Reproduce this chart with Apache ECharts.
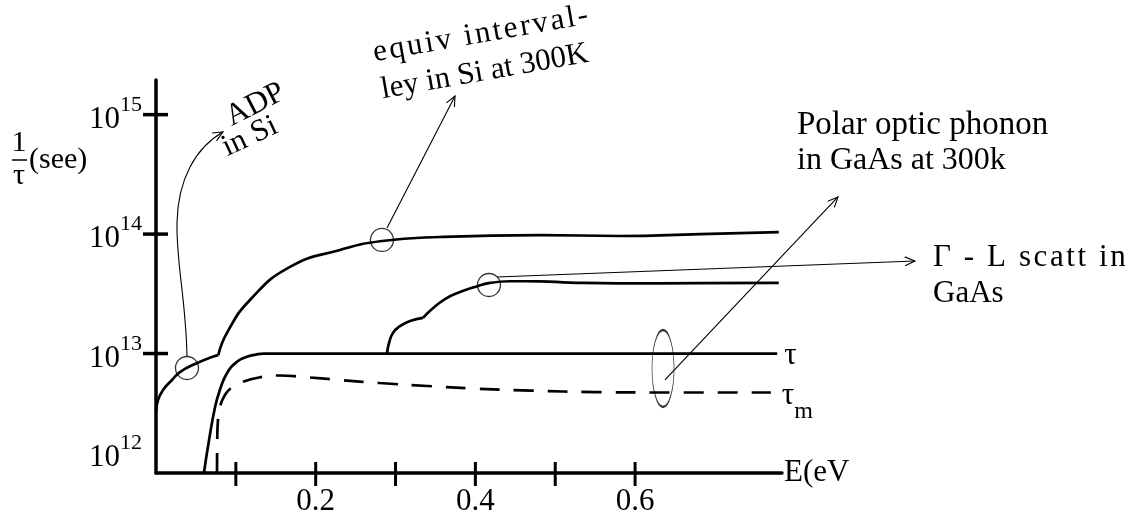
<!DOCTYPE html>
<html>
<head>
<meta charset="utf-8">
<script src="https://cdn.jsdelivr.net/npm/echarts@6/dist/echarts.min.js"></script>
<style>
html,body{margin:0;padding:0;background:#fff;}
#c{width:1140px;height:519px;}
</style>
</head>
<body>
<div id="c"></div>
<script>
// ---------- data (energy in eV, scattering rate 1/tau in s^-1) ----------
const siAdpE    = [0, 0.0025, 0.0088, 0.020, 0.030, 0.051, 0.071, 0.078];
const siAdpRate = [3.24e12, 4.08e12, 4.95e12, 6.0e12, 7.0e12, 8.3e12, 9.4e12, 9.7e12];

const siIvE    = [0.078, 0.0889, 0.1177, 0.1678, 0.2304, 0.283, 0.3557, 0.4809, 0.5811, 0.6813, 0.780];
const siIvRate = [9.7e12, 1.49e13, 2.81e13, 5.31e13, 7.37e13, 8.75e13, 9.46e13, 9.82e13, 9.64e13, 1.0e14, 1.04e14];

const glE1    = [0.2893, 0.2918, 0.2968, 0.3056, 0.3181, 0.3344];
const glRate1 = [1.0e13, 1.22e13, 1.49e13, 1.70e13, 1.87e13, 1.99e13];
const glE2    = [0.3344, 0.3457, 0.3619, 0.3807, 0.3995, 0.4183, 0.4433, 0.4809, 0.5185, 0.5811, 0.6812, 0.780];
const glRate2 = [1.99e13, 2.36e13, 2.86e13, 3.28e13, 3.61e13, 3.90e13, 4.03e13, 4.02e13, 3.93e13, 3.87e13, 3.88e13, 3.90e13];

const tauE    = [0.060, 0.0665, 0.074, 0.080, 0.089, 0.101, 0.113, 0.125, 0.135, 0.778];
const tauRate = [1.0e12, 1.9e12, 3.57e12, 4.95e12, 6.88e12, 8.49e12, 9.35e12, 9.8e12, 1.0e13, 1.0e13];

const tauME    = [0.0764, 0.0767, 0.0776, 0.0808, 0.0864, 0.0927, 0.108, 0.133, 0.155, 0.184, 0.23, 0.28, 0.34, 0.40, 0.47, 0.55, 0.65, 0.77];
const tauMRate = [1.0e12, 1.89e12, 2.78e12, 3.71e12, 4.5e12, 5.05e12, 5.78e12, 6.37e12, 6.55e12, 6.37e12, 6.01e12, 5.67e12, 5.35e12, 5.09e12, 4.9e12, 4.76e12, 4.72e12, 4.72e12];

// marked points on the curves (circles) and the ellipse on the tau / tau_m pair
const circleE    = [0.0388, 0.283, 0.417];
const circleRate = [7.57e12, 8.93e13, 3.75e13];
const ellipseE    = [0.635];
const ellipseRate = [7.5e12];

// axis ticks / labels
const xTickValues  = [0.1, 0.2, 0.3, 0.4, 0.5, 0.6];
const xTickLabels  = ['0.2', '0.4', '0.6'];
const yTickValues  = [1e13, 1e14, 1e15];

// ---------- chart ----------
const FONT = '"Liberation Serif", "Times New Roman", serif';
const zip = (a, b) => a.map((v, i) => [v, b[i]]);
const chart = echarts.init(document.getElementById('c'), null, {renderer: 'canvas'});

const lineBase = {
  type: 'line', showSymbol: false, symbol: 'none', smooth: 0.5, silent: true,
  lineStyle: {color: '#000', width: 2.7}, z: 3
};

const option = {
  animation: false,
  backgroundColor: '#fff',
  grid: {left: 156, right: 358, top: 80, bottom: 46, outerBoundsMode: 'none', containLabel: false},
  xAxis: {
    type: 'value', min: 0, max: 0.784, interval: 0.1,
    axisLine: {show: true, onZero: false, lineStyle: {color: '#000', width: 3.5}},
    axisTick: {show: false}, splitLine: {show: false},
    axisLabel: {
      margin: 13, fontSize: 31, fontFamily: FONT, color: '#000',
      showMinLabel: true, showMaxLabel: true,
      formatter: v => {
        const r = v.toFixed(1);
        return (Math.abs(v - parseFloat(r)) < 1e-9 && xTickLabels.includes(r)) ? r : '';
      }
    },
    name: 'E(eV', nameLocation: 'end', nameGap: 2,
    nameTextStyle: {fontSize: 31, fontFamily: FONT, color: '#000', verticalAlign: 'middle', align: 'left'}
  },
  yAxis: {
    type: 'log', logBase: 10, min: 1e12, max: 1.95e15,
    axisLine: {show: true, onZero: false, lineStyle: {color: '#000', width: 3.5}},
    axisTick: {show: false}, splitLine: {show: false}, minorTick: {show: false},
    axisLabel: {
      margin: 14,
      formatter: v => {
        const e = Math.log10(v);
        if (Math.abs(e - Math.round(e)) > 1e-6) return '';
        const n = Math.round(e);
        // lowest label sits above the x axis
        return '{b|10}{s|' + n + '}' + (n === 12 ? '\n{gap| }' : '');
      },
      rich: {
        b: {fontSize: 31, fontFamily: FONT, color: '#000', lineHeight: 41, verticalAlign: 'bottom'},
        s: {fontSize: 22, fontFamily: FONT, color: '#000', verticalAlign: 'top'},
        gap: {fontSize: 10, lineHeight: 41}
      }
    }
  },
  series: [
    Object.assign({}, lineBase, {name: 'ADP in Si', data: zip(siAdpE, siAdpRate)}),
    Object.assign({}, lineBase, {name: 'equiv intervalley in Si', data: zip(siIvE, siIvRate)}),
    Object.assign({}, lineBase, {name: 'Gamma-L a', data: zip(glE1, glRate1)}),
    Object.assign({}, lineBase, {name: 'Gamma-L b', data: zip(glE2, glRate2)}),
    Object.assign({}, lineBase, {
      name: 'tau', data: zip(tauE, tauRate),
      endLabel: {show: true, formatter: () => 'τ', distance: 7, offset: [0, 2],
                 fontSize: 31, fontFamily: FONT, color: '#000'}
    }),
    Object.assign({}, lineBase, {
      name: 'tau_m', data: zip(tauME, tauMRate),
      lineStyle: {color: '#000', width: 2.7, type: [20, 14]},
      endLabel: {show: true, formatter: () => '{t|τ}{m|m}', distance: 11, offset: [0, 3],
                 rich: {
                   t: {fontSize: 31, fontFamily: FONT, color: '#000', lineHeight: 31, verticalAlign: 'top'},
                   m: {fontSize: 24, fontFamily: FONT, color: '#000', lineHeight: 24, padding: [20, 0, 0, 0], verticalAlign: 'top'}
                 }}
    }),
    {
      type: 'scatter', name: 'markers', silent: true, z: 4,
      symbol: 'circle', symbolSize: 23,
      itemStyle: {color: 'rgba(0,0,0,0)', borderColor: '#000', borderWidth: 1.3},
      data: zip(circleE, circleRate)
    },
    {
      type: 'scatter', name: 'ellipse', silent: true, z: 4,
      symbol: 'circle', symbolSize: [22, 77],
      itemStyle: {color: 'rgba(0,0,0,0)', borderColor: '#000', borderWidth: 1.3},
      data: zip(ellipseE, ellipseRate)
    },
    {
      type: 'custom', name: 'yticks', silent: true, clip: false, z: 5,
      encode: {x: 0, y: 1},
      data: yTickValues.map(v => [0, v]),
      renderItem: (params, api) => {
        const p = api.coord([api.value(0), api.value(1)]);
        return {type: 'line', shape: {x1: p[0] - 13, y1: p[1], x2: p[0] + 12, y2: p[1]},
                style: {stroke: '#000', lineWidth: 3.5}};
      }
    },
    {
      type: 'custom', name: 'xticks', silent: true, clip: false, z: 5,
      encode: {x: 0, y: 1},
      data: xTickValues.map(v => [v, 1e12]),
      renderItem: (params, api) => {
        const p = api.coord([api.value(0), api.value(1)]);
        return {type: 'line', shape: {x1: p[0], y1: p[1] - 11, x2: p[0], y2: p[1] + 13},
                style: {stroke: '#000', lineWidth: 3}};
      }
    }
  ]
};
chart.setOption(option);

// ---------- annotations anchored in data space: [E, log10(rate)] ----------
const px = (a) => chart.convertToPixel({gridIndex: 0}, [a[0], Math.pow(10, a[1])]);
const spread = s => s.split('').join('\u200A');
const stroke = {stroke: '#000', lineWidth: 1.1, fill: 'none'};

function head(tip, from, len = 11, ang = 0.42) {
  const a = Math.atan2(tip[1] - from[1], tip[0] - from[0]);
  return [
    [tip[0] - len * Math.cos(a - ang), tip[1] - len * Math.sin(a - ang)],
    tip,
    [tip[0] - len * Math.cos(a + ang), tip[1] - len * Math.sin(a + ang)]
  ];
}
function text(anchor, str, size, rotDeg) {
  const p = px(anchor);
  return {type: 'text', x: p[0], y: p[1], rotation: (rotDeg || 0) * Math.PI / 180, z: 10,
          style: {text: str, font: size + 'px ' + FONT, fill: '#000', textAlign: 'left', textVerticalAlign: 'middle'}};
}

const g = [];
// ADP curved arrow
const a0 = px([0.0388, 12.98]), c1 = px([0.0376, 13.448]), c2 = px([0.025, 13.766]), a1 = px([0.0263, 14.101]);
const c3 = px([0.0276, 14.453]), c4 = px([0.0488, 14.721]), a2 = px([0.0839, 14.855]);
g.push({type: 'bezierCurve', shape: {x1: a0[0], y1: a0[1], cpx1: c1[0], cpy1: c1[1], cpx2: c2[0], cpy2: c2[1], x2: a1[0], y2: a1[1]}, style: stroke});
g.push({type: 'bezierCurve', shape: {x1: a1[0], y1: a1[1], cpx1: c3[0], cpy1: c3[1], cpx2: c4[0], cpy2: c4[1], x2: a2[0], y2: a2[1]}, style: stroke});
g.push({type: 'polyline', shape: {points: head(a2, c4)}, style: stroke});

// straight arrows
[
  [[0.2893, 14.051], [0.3745, 15.156]],
  [[0.4271, 13.641], [0.9505, 13.775]],
  [[0.6374, 12.779], [0.8541, 14.311]]
].forEach(([f, t]) => {
  const p0 = px(f), p1 = px(t);
  g.push({type: 'line', shape: {x1: p0[0], y1: p0[1], x2: p1[0], y2: p1[1]}, style: stroke});
  g.push({type: 'polyline', shape: {points: head(p1, p0)}, style: stroke});
});

// texts
g.push(text([0.0899, 14.964], 'ADP', 31, 27));
g.push(text([0.0849, 14.713], 'in Si', 31, 25));
g.push(text([0.2721, 15.514], spread('equiv interval-'), 31, 10));
g.push(text([0.2822, 15.205], 'ley in Si at 300K', 31, 10));
g.push(text([0.8028, 14.909], 'Polar optic phonon', 33, 0));
g.push(text([0.8028, 14.616], 'in GaAs at 300k', 32, 0));
g.push(text([0.9731, 13.800], spread('Γ - L scatt in'), 31, 0));
g.push(text([0.9731, 13.503], 'GaAs', 31, 0));

// y-axis title: 1/τ (see)
g.push({type: 'text', x: 19, y: 143, z: 10, style: {text: '1', font: '30px ' + FONT, fill: '#000', textAlign: 'center', textVerticalAlign: 'middle'}});
g.push({type: 'line', shape: {x1: 12, y1: 160, x2: 27, y2: 160}, style: {stroke: '#000', lineWidth: 1.5}});
g.push({type: 'text', x: 19, y: 176, z: 10, style: {text: 'τ', font: '30px ' + FONT, fill: '#000', textAlign: 'center', textVerticalAlign: 'middle'}});
g.push({type: 'text', x: 29, y: 160, z: 10, style: {text: '(see)', font: '30px ' + FONT, fill: '#000', textAlign: 'left', textVerticalAlign: 'middle'}});

chart.setOption({graphic: {elements: g}});
</script>
</body>
</html>
